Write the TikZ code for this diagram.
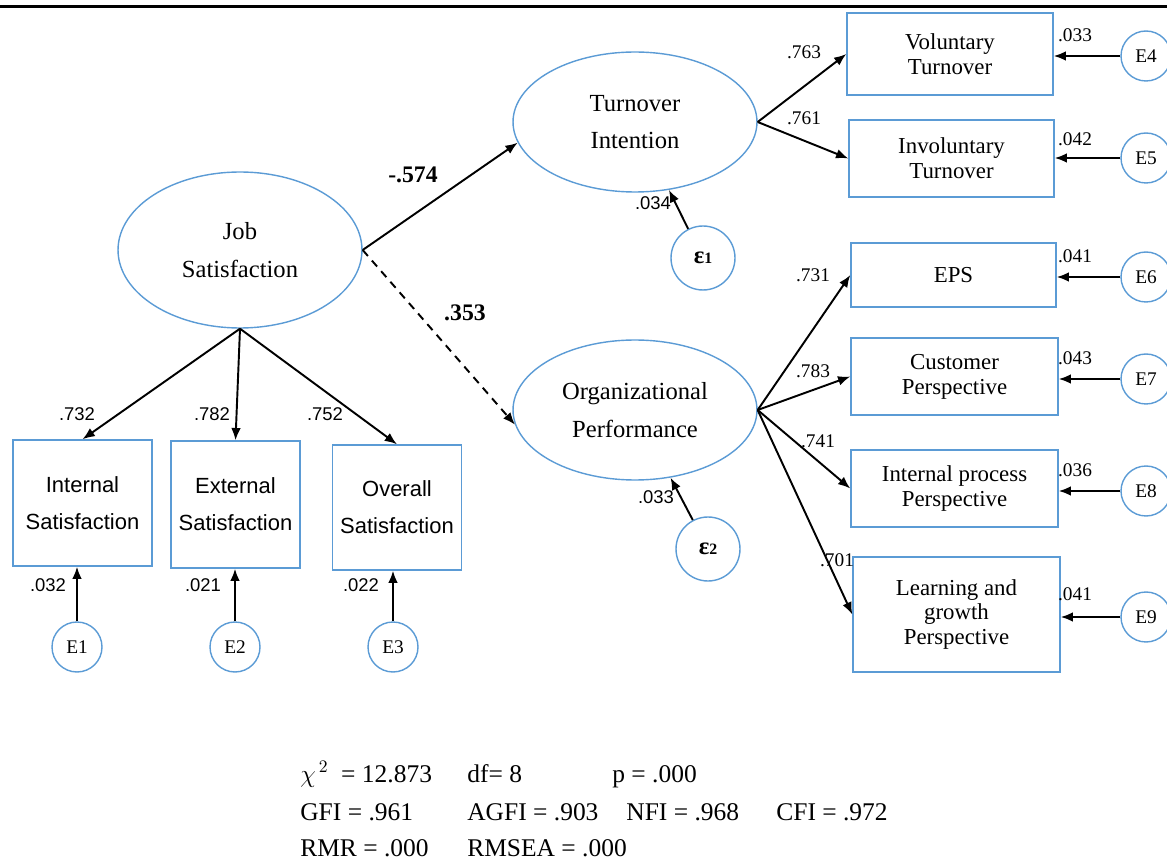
\documentclass[tikz,border=0pt]{standalone}
\usepackage{fontspec}
\setmainfont{Liberation Serif}
\setsansfont{Liberation Sans}
\usetikzlibrary{shapes.geometric,arrows.meta}
\definecolor{amosblue}{RGB}{91,155,213}

\begin{document}
\begin{tikzpicture}[x=0.02cm,y=-0.02cm,
  latent/.style={ellipse,draw=amosblue,line width=0.8pt,inner sep=0pt,align=center,
    minimum width=4.88cm,minimum height=2.8cm,font=\fontsize{14}{21.5}\selectfont},
  observed/.style={rectangle,draw=amosblue,line width=0.8pt,inner sep=0pt,align=center,
    font=\fontsize{13}{14.2}\selectfont},
  sfobserved/.style={observed,font=\sffamily\fontsize{12.5}{21}\selectfont},
  errvar/.style={circle,draw=amosblue,line width=0.8pt,inner sep=0pt,minimum size=1cm,
    font=\fontsize{11}{13}\selectfont},
  causal/.style={-{Latex[length=7pt,width=5.5pt]},line width=1.1pt},
  coef/.style={inner sep=0pt,font=\fontsize{11}{13}\selectfont},
  sfcoef/.style={inner sep=0pt,font=\sffamily\fontsize{10.5}{13}\selectfont},
  bcoef/.style={inner sep=0pt,font=\bfseries\fontsize{13.5}{15}\selectfont},
  fitstat/.style={anchor=base west,inner sep=0pt,font=\fontsize{14.5}{17}\selectfont}]
  \useasboundingbox (0,0) rectangle (1167,861);
  % header rule
  \draw[line width=1.7pt] (0,6.5) -- (1167,6.5);
  % latent variables
  \node[latent,minimum height=3.12cm] (js) at (240,250) {Job\\Satisfaction};
  \node[latent] (ti) at (635,122) {Turnover\\Intention};
  \node[latent] (op) at (635,410) {Organizational\\Performance};
  % job satisfaction indicators
  \node[sfobserved,minimum width=2.78cm,minimum height=2.52cm] (is) at (82.5,503) {Internal\\Satisfaction};
  \node[sfobserved,minimum width=2.58cm,minimum height=2.54cm] (es) at (235.5,504.5) {External\\Satisfaction};
  \node[sfobserved,minimum width=2.58cm,minimum height=2.5cm] (os) at (397,507.5) {Overall\\Satisfaction};
  % turnover indicators
  \node[observed,minimum width=4.12cm,minimum height=1.64cm] (vt) at (950,54) {Voluntary\\Turnover};
  \node[observed,minimum width=4.1cm,minimum height=1.54cm] (it) at (951.5,158.5) {Involuntary\\Turnover};
  % performance indicators
  \node[observed,minimum width=4.1cm,minimum height=1.28cm] (eps) at (953.5,275) {EPS};
  \node[observed,minimum width=4.14cm,minimum height=1.54cm] (cp) at (954.5,376.5) {Customer\\Perspective};
  \node[observed,minimum width=4.14cm,minimum height=1.54cm] (ipp) at (954.5,488.5) {Internal process\\Perspective};
  \node[observed,minimum width=4.14cm,minimum height=2.3cm] (lgp) at (956.5,614.5) {Learning and\\growth\\Perspective};
  % error terms
  \foreach \n/\x in {1/77,2/235,3/393}
    \node[errvar] (e\n) at (\x,647) {E\n};
  \foreach \n/\y in {4/56,5/158,6/277,7/379,8/491,9/617}
    \node[errvar] (e\n) at (1146,\y) {E\n};
  \node[errvar,minimum size=1.28cm] (d1) at (703,258) {\textbf{\fontsize{14}{16}\selectfont ε{\fontsize{9}{9}\selectfont 1}}};
  \node[errvar,minimum size=1.28cm] (d2) at (708,549) {\textbf{\fontsize{14}{16}\selectfont ε{\fontsize{9}{9}\selectfont 2}}};
  % structural paths
  \draw[causal] (js.east) -- (ti.190);
  \draw[causal,dash pattern=on 4.5pt off 3.5pt] (js.east) -- (op.187);
  % measurement paths
  \foreach \t in {is,es,os} \draw[causal] (js.south) -- (\t.north);
  \foreach \t in {vt,it} \draw[causal] (ti.east) -- (\t.west);
  \foreach \t in {eps,cp,ipp,lgp} \draw[causal] (op.east) -- (\t.west);
  % error paths
  \foreach \n/\t in {1/is,2/es,3/os} \draw[causal] (e\n) -- (e\n |- \t.south);
  \foreach \n/\t in {4/vt,5/it,6/eps,7/cp,8/ipp,9/lgp} \draw[causal] (e\n) -- (e\n -| \t.east);
  \draw[causal] (d1) -- (ti);
  \draw[causal] (d2) -- (op);
  % coefficients
  \node[bcoef] (b1) at (413,175) {-.574};
  \node[bcoef] (b2) at (465,313) {.353};
  \node[sfcoef] (l1) at (77,414) {.732};
  \node[sfcoef] (l2) at (212,414) {.782};
  \node[sfcoef] (l3) at (325,414) {.752};
  \node[coef] (l4) at (804,52) {.763};
  \node[coef] (l5) at (804,118) {.761};
  \node[coef] (l6) at (813,275) {.731};
  \node[coef] (l7) at (813,371) {.783};
  \node[coef] (l8) at (818,441) {.741};
  \node[coef] (l9) at (837,560) {.701};
  \node[sfcoef] (v1) at (48,585) {.032};
  \node[sfcoef] (v2) at (203,585) {.021};
  \node[sfcoef] (v3) at (361,585) {.022};
  \node[coef] (v4) at (1075,35) {.033};
  \node[coef] (v5) at (1075,139) {.042};
  \node[coef] (v6) at (1075,256) {.041};
  \node[coef] (v7) at (1075,358) {.043};
  \node[coef] (v8) at (1075,470) {.036};
  \node[coef] (v9) at (1075,594) {.041};
  \node[sfcoef] (r1) at (653,203) {.034};
  \node[sfcoef] (r2) at (656,497) {.033};
  % fit statistics
  \node[fitstat] (chi) at (300,782) {$\chi^{\,2}$\ \ = 12.873};
  \node[fitstat] (df) at (467,782) {df= 8};
  \node[fitstat] (pv) at (612,782) {p = .000};
  \node[fitstat] (gfi) at (300,820) {GFI = .961};
  \node[fitstat] (agfi) at (467,820) {AGFI = .903};
  \node[fitstat] (nfi) at (626,820) {NFI = .968};
  \node[fitstat] (cfi) at (776,820) {CFI = .972};
  \node[fitstat] (rmr) at (300,856) {RMR = .000};
  \node[fitstat] (rmsea) at (467,856) {RMSEA = .000};
\end{tikzpicture}
\end{document}
